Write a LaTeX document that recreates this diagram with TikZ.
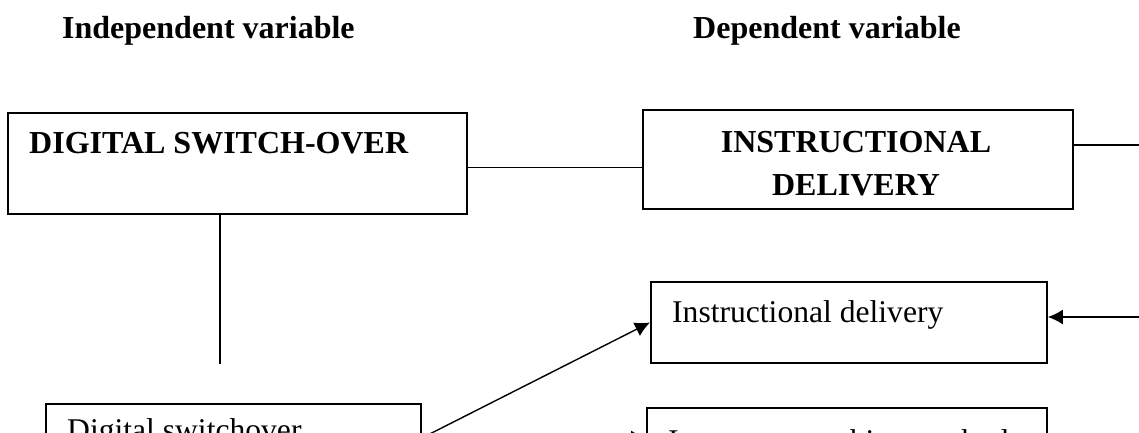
\documentclass[tikz,border=0pt]{standalone}
\usepackage{fontspec}
\setmainfont{Liberation Serif}
\usetikzlibrary{arrows.meta}

\begin{document}
\begin{tikzpicture}[
  x=1pt, y=-1pt,
  every node/.append style={inner sep=0pt},
  txt/.style={font=\fontsize{31.6}{43}\selectfont},
  head/.style={font=\fontsize{32}{43}\selectfont\bfseries},
  box/.style={draw, line width=1.9pt, rectangle, anchor=north west},
  link/.style={line width=1.4pt},
  >={Latex[length=15pt,width=15pt]}
  ]
  \useasboundingbox (0,0) rectangle (1139,432);
  \clip (0,0) rectangle (1139,432);

  % headings
  \node [head, anchor=base west] (indep) at (62,38) {Independent variable};
  \node [head, anchor=base west] (dep) at (693,38) {Dependent variable};

  % boxes and their texts
  \node [box, minimum width=459pt, minimum height=101pt] (ds) at (7,112) {};
  \node [head, anchor=base west] (dstext) at (29,153) {DIGITAL SWITCH-OVER};
  \node [box, minimum width=430pt, minimum height=99pt] (id) at (642,109) {};
  \node [head, align=center, anchor=north] (idtext) at (856,131) {INSTRUCTIONAL\\DELIVERY};
  \node [box, minimum width=396pt, minimum height=81pt] (idl) at (650,281) {};
  \node [txt, anchor=base west] (idltext) at (672,322) {Instructional delivery};
  \node [box, minimum width=375pt, minimum height=68pt] (dsw) at (45,403) {};
  \node [txt, anchor=base west] (dswtext) at (67,440) {Digital switchover};
  \node [box, minimum width=400pt, minimum height=60pt] (itm) at (646,407) {};
  \node [txt, anchor=base west] (itmtext) at (668,451) {Instructor teaching method};

  % connectors
  \coordinate (dsid) at ([yshift=-4pt]ds.east);
  \coordinate (idout) at (1139,145);
  \coordinate (idlin) at (1139,317);
  \coordinate (dsfoot) at (220,364);
  \draw [link] (dsid) -- (dsid -| id.west);
  \draw [link] (id.east |- idout) -- (idout);
  \draw [link] (ds.south -| dsfoot) -- (dsfoot);
  \draw [link, ->] (idlin) -- (idlin -| idl.east);
  \draw [link, ->] (dsw.east) -- (idl.west);
  \draw [link, ->] (dsw.east) -- (itm.west);
\end{tikzpicture}
\end{document}
